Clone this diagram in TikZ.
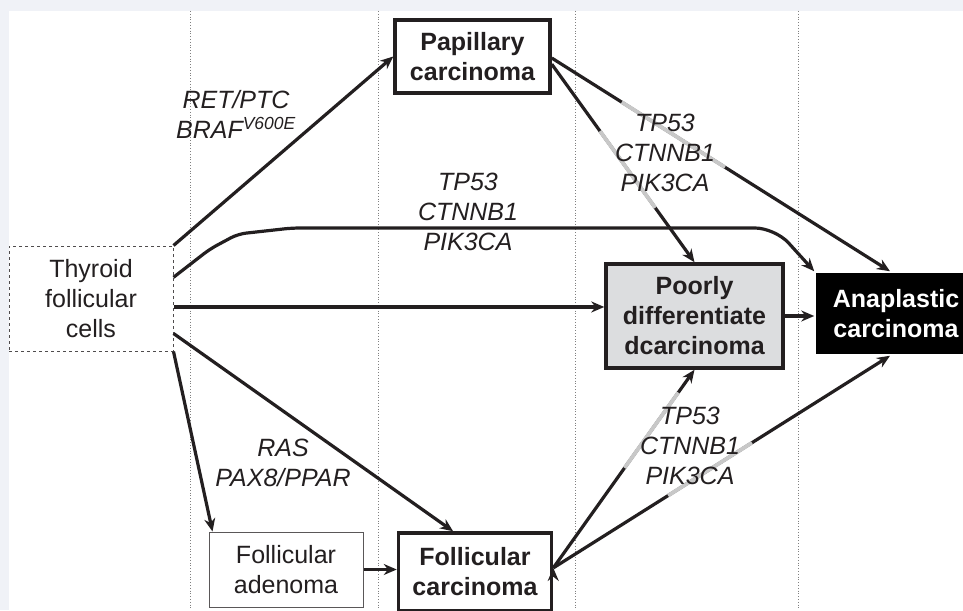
\documentclass[tikz,border=0pt]{standalone}
\usepackage{fontspec}
\setmainfont{Liberation Sans}
\usetikzlibrary{arrows.meta,calc}

\definecolor{panelbg}{HTML}{F0F2F7}
\definecolor{ink}{HTML}{231F20}
\definecolor{poorfill}{HTML}{DCDDDF}
\definecolor{fadeline}{HTML}{C8C8C8}

\begin{document}
\begin{tikzpicture}[x=1pt,y=-1pt,
  stage node/.style={rectangle,draw=ink,line width=3.5pt,inner sep=0pt,align=center,
    font=\fontsize{25}{30}\selectfont\bfseries,text=ink},
  cell node/.style={rectangle,draw=ink!80,line width=1pt,inner sep=0pt,align=center,
    font=\fontsize{25}{30}\selectfont,text=ink},
  gene label/.style={align=center,font=\fontsize{25}{30}\selectfont\itshape,text=ink},
  arr/.style={draw=ink,line width=3.2pt,-{Stealth[length=13pt,width=11pt]}},
  fade/.style={draw=fadeline,line width=3.8pt},
  guide/.style={draw=gray,line width=0.8pt,dotted}]

  \useasboundingbox (0,0) rectangle (963,610);
  \fill[panelbg] (0,0) rectangle (963,610);
  \fill[white] (9,11) rectangle (963,610);
  \foreach \x in {190,378,575,798}
    \draw[guide] (\x,11) -- (\x,610);

  \node[cell node,dashed,minimum width=164,minimum height=105] (thyroid) at (91,298.5)
    {Thyroid\\follicular\\cells};
  \node[stage node,minimum width=155,minimum height=73] (papillary) at (472.5,56.5)
    {Papillary\\carcinoma};
  \node[stage node,fill=poorfill,minimum width=177,minimum height=104] (poorly) at (694.5,316)
    {Poorly\\differentiate\\dcarcinoma};
  \node[stage node,draw=none,fill=black,text=white,minimum width=160,minimum height=81] (anaplastic)
    at (896,313.5) {Anaplastic\\carcinoma};
  \node[cell node,draw=ink!75,minimum width=154,minimum height=75] (adenoma) at (286,569.5)
    {Follicular\\adenoma};
  \node[stage node,minimum width=153,minimum height=78] (follcarc) at (475,572)
    {Follicular\\carcinoma};

  \coordinate (t2) at ($(thyroid.north east)!0.3!(thyroid.south east)$);
  \coordinate (t3) at ($(thyroid.north east)!0.58!(thyroid.south east)$);
  \coordinate (t4) at ($(thyroid.north east)!0.83!(thyroid.south east)$);
  \coordinate (p1) at ($(papillary.north east)!0.52!(papillary.south east)$);
  \coordinate (p2) at ($(papillary.north east)!0.6!(papillary.south east)$);
  \coordinate (f1) at ($(follcarc.north east)!0.45!(follcarc.south east)$);
  \coordinate (fc) at ($(follcarc.north west)!0.36!(follcarc.north east)$);
  \coordinate (ad) at ($(adenoma.north west)+(4,0)$);
  \coordinate (an1) at ($(anaplastic.north)+(-6,0)$);
  \coordinate (an2) at ($(anaplastic.south)+(-6,0)$);

  \path[arr]
   (thyroid.north east) edge (papillary.west)
   (t3) edge (t3 -| poorly.west)
   (t4) edge (fc)
   (thyroid.south east) edge (ad)
   (adenoma.east) edge (adenoma.east -| follcarc.west)
   (p1) edge (an1)
   (p2) edge (poorly.north)
   (poorly.east) edge (poorly.east -| anaplastic.west)
   (f1) edge (poorly.south)
   (f1) edge (an2);

  \draw[arr,rounded corners=8pt] (t2) -- (210,249) -- (238,234) -- (292,228)
    [rounded corners=20pt] -- (775,228) -- (anaplastic.north west);

  % grey parts behind the gene labels
  \draw[fade] ($(p1)!.207!(an1)$) -- ($(p1)!.512!(an1)$);
  \draw[fade] ($(p2)!.338!(poorly.north)$) -- ($(p2)!.725!(poorly.north)$);
  \draw[fade] ($(f1)!.505!(poorly.south)$) -- ($(f1)!.885!(poorly.south)$);
  \draw[fade] ($(f1)!.341!(an2)$) -- ($(f1)!.59!(an2)$);

  \node[gene label] (retptc) at (236,114) {RET/PTC\\BRAF\textsuperscript{V600E}};
  \node[gene label] (midgenes) at (468,212) {TP53\\CTNNB1\\PIK3CA};
  \node[gene label] (topgenes) at (665,153) {TP53\\CTNNB1\\PIK3CA};
  \node[gene label] (lowgenes) at (690,446) {TP53\\CTNNB1\\PIK3CA};
  \node[gene label] (rasgenes) at (283,463) {RAS\\PAX8/PPAR};
\end{tikzpicture}
\end{document}
